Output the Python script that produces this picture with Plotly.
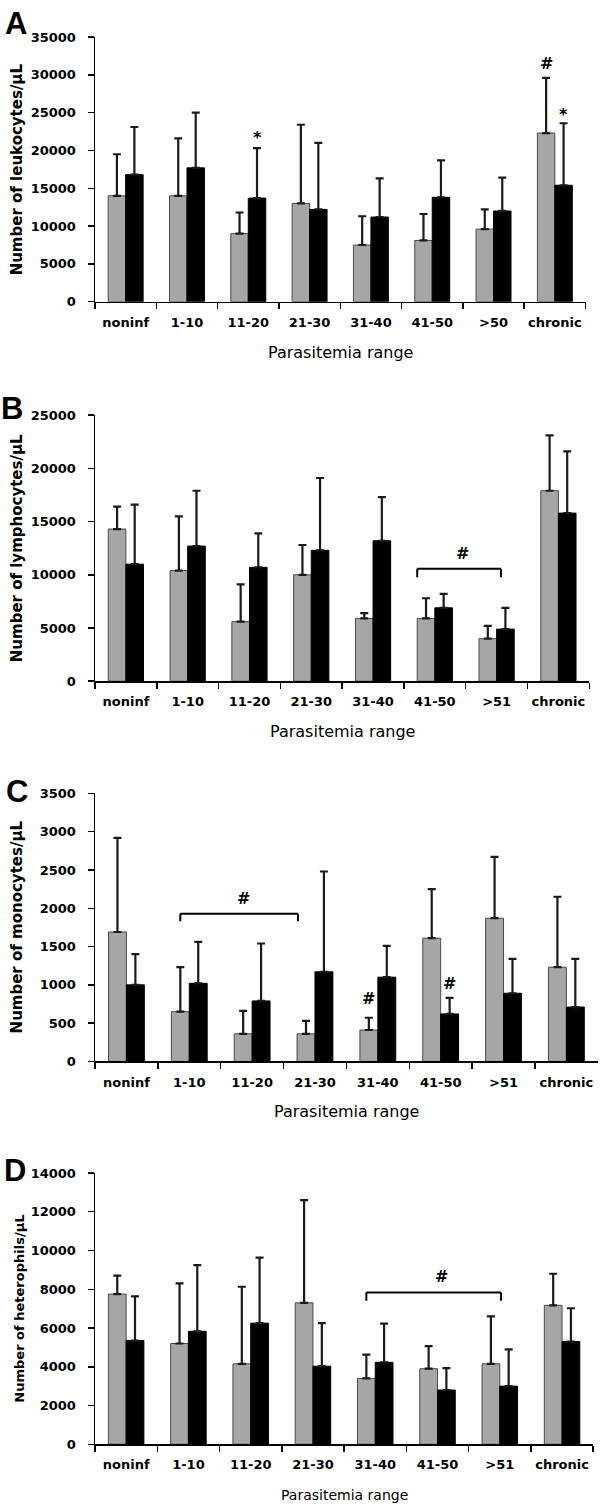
import plotly.graph_objects as go

# ---------------- data ----------------
cats_a = ["noninf", "1-10", "11-20", "21-30", "31-40", "41-50", ">50", "chronic"]
cats_bcd = ["noninf", "1-10", "11-20", "21-30", "31-40", "41-50", ">51", "chronic"]

leuko_gray = [14000, 14000, 9000, 13000, 7500, 8100, 9600, 22300]
leuko_gray_err = [5500, 7600, 2800, 10400, 3800, 3500, 2600, 7300]
leuko_black = [16800, 17700, 13700, 12200, 11200, 13800, 12000, 15400]
leuko_black_err = [6300, 7300, 6600, 8800, 5100, 4900, 4400, 8200]

lympho_gray = [14300, 10400, 5600, 10000, 5900, 5900, 4000, 17900]
lympho_gray_err = [2100, 5100, 3500, 2800, 500, 1900, 1200, 5200]
lympho_black = [11000, 12700, 10700, 12300, 13200, 6900, 4900, 15800]
lympho_black_err = [5600, 5200, 3200, 6800, 4100, 1300, 2000, 5800]

mono_gray = [1690, 650, 360, 360, 410, 1610, 1870, 1230]
mono_gray_err = [1230, 580, 300, 170, 160, 640, 800, 920]
mono_black = [1000, 1020, 790, 1170, 1100, 620, 890, 710]
mono_black_err = [400, 540, 750, 1310, 410, 210, 450, 630]

hetero_gray = [7750, 5200, 4150, 7300, 3400, 3900, 4150, 7170]
hetero_gray_err = [950, 3100, 3980, 5300, 1230, 1160, 2450, 1630]
hetero_black = [5350, 5830, 6250, 4030, 4230, 2800, 3000, 5300]
hetero_black_err = [2280, 3420, 3380, 2220, 2000, 1130, 1900, 1720]

# ---------------- styling ----------------
GRAY = "#A6A6A6"
W, H = 600, 1509
TICK_FONT = dict(family="DejaVu Sans", size=13, color="black", weight="bold")
# domain in pixels: (x_left, x_right, y_bottom, y_top)
panels = [
    dict(letter="A", cats=cats_a, g=leuko_gray, ge=leuko_gray_err, b=leuko_black, be=leuko_black_err,
         ymax=35000, dtick=5000, px=(95, 585.5, 297.7, 30.3), ytitle="Number of leukocytes/µL",
         letter_pos=(16, 17), ytsize=15, xtsize=16, ytx=17),
    dict(letter="B", cats=cats_bcd, g=lympho_gray, ge=lympho_gray_err, b=lympho_black, be=lympho_black_err,
         ymax=25000, dtick=5000, px=(95, 589.3, 681, 412.3), ytitle="Number of lymphocytes/µL",
         letter_pos=(12, 406), ytsize=15, xtsize=16, ytx=17),
    dict(letter="C", cats=cats_bcd, g=mono_gray, ge=mono_gray_err, b=mono_black, be=mono_black_err,
         ymax=3500, dtick=500, px=(95, 597.8, 1065, 794.3), ytitle="Number of monocytes/µL",
         letter_pos=(17, 792), ytsize=15, xtsize=16, ytx=17),
    dict(letter="D", cats=cats_bcd, g=hetero_gray, ge=hetero_gray_err, b=hetero_black, be=hetero_black_err,
         ymax=14000, dtick=2000, px=(95, 593.2, 1451.7, 1177.7), ytitle="Number of heterophils/µL",
         letter_pos=(15, 1175), ytsize=13, xtsize=14, ytx=20),
]

# significance marks: (panel index, x index position, y value, text)
sig_marks = [
    (0, 2.1425, 22360, "*"), (0, 6.857, 31500, "#"), (0, 7.1425, 25400, "*"),
    (1, 5.45, 12034, "#"),
    (2, 1.87, 2134, "#"), (2, 3.857, 819, "#"), (2, 5.1425, 1021, "#"),
    (3, 5.07, 8652, "#"),
]
# brackets: (panel index, x start, x end, top y, leg bottom y)
brackets = [
    (1, 4.715, 6.07, 10577, 9770),
    (2, 0.857, 2.73, 1927, 1832),
    (3, 3.857, 6.02, 7835, 7409),
]

fig = go.Figure()
annotations = []
shapes = []

for i, p in enumerate(panels):
    n = "" if i == 0 else str(i + 1)
    xa, ya = "x" + n, "y" + n
    err_style = dict(type="data", symmetric=False, color="#1a1a1a", thickness=2.2, width=4)
    fig.add_trace(go.Bar(x=p["cats"], y=p["g"], xaxis=xa, yaxis=ya,
                         marker=dict(color=GRAY, line=dict(color="#4a4a4a", width=1)),
                         error_y=dict(array=p["ge"], arrayminus=[0] * 8, **err_style),
                         showlegend=False, hoverinfo="skip"))
    fig.add_trace(go.Bar(x=p["cats"], y=p["b"], xaxis=xa, yaxis=ya,
                         marker=dict(color="black", line=dict(color="black", width=1)),
                         error_y=dict(array=p["be"], arrayminus=[0] * 8, **err_style),
                         showlegend=False, hoverinfo="skip"))
    x0, x1, yb, yt = p["px"]
    fig.update_layout(**{
        "xaxis" + n: dict(domain=[x0 / W, x1 / W], anchor=ya, type="category",
                          categoryorder="array", categoryarray=p["cats"],
                          range=[-0.5, 7.5], tickson="boundaries", ticks="outside",
                          ticklen=6, tickwidth=1.5, tickcolor="black", tickangle=0,
                          showline=True, linecolor="black", linewidth=1.5,
                          showgrid=False, tickfont=TICK_FONT, ticklabelstandoff=8,
                          fixedrange=True),
        "yaxis" + n: dict(domain=[1 - yb / H, 1 - yt / H], anchor=xa,
                          range=[0, p["ymax"]], dtick=p["dtick"], tick0=0, tickformat="d",
                          ticks="outside", ticklen=6, tickwidth=1.5, tickcolor="black",
                          showline=True, linecolor="black", linewidth=1.5,
                          showgrid=False, zeroline=False, tickfont=TICK_FONT,
                          ticklabelstandoff=9, fixedrange=True),
    })
    # panel letter
    annotations.append(dict(text="<b>%s</b>" % p["letter"], x=p["letter_pos"][0] / W,
                            y=1 - p["letter_pos"][1] / H, xref="paper", yref="paper",
                            xanchor="center", yanchor="middle", showarrow=False,
                            font=dict(family="Liberation Sans", size=31, color="black")))
    # y title
    annotations.append(dict(text="<b>%s</b>" % p["ytitle"], x=p["ytx"] / W,
                            y=1 - (yb + yt) / 2 / H, xref="paper", yref="paper",
                            xanchor="center", yanchor="middle", textangle=-90, showarrow=False,
                            font=dict(family="DejaVu Sans", size=p["ytsize"], color="black")))
    # x title
    annotations.append(dict(text="Parasitemia range", x=(x0 + x1) / 2 / W,
                            y=1 - (yb + 51) / H, xref="paper", yref="paper",
                            xanchor="center", yanchor="middle", showarrow=False,
                            font=dict(family="DejaVu Sans", size=p["xtsize"], color="black")))

for (pi, xv, yv, txt) in sig_marks:
    n = "" if pi == 0 else str(pi + 1)
    annotations.append(dict(text="<b>%s</b>" % txt, x=xv, y=yv, xref="x" + n, yref="y" + n,
                            xanchor="center", yanchor="middle", showarrow=False,
                            yshift=-5 if txt == "*" else 0,
                            font=dict(family="DejaVu Sans", size=16, color="black")))

for (pi, xs, xe, ytop, ylow) in brackets:
    n = "" if pi == 0 else str(pi + 1)
    line = dict(color="black", width=2)
    for (a0, b0, a1, b1) in [(xs, ylow, xs, ytop), (xs, ytop, xe, ytop), (xe, ytop, xe, ylow)]:
        shapes.append(dict(type="line", xref="x" + n, yref="y" + n, x0=a0, y0=b0, x1=a1, y1=b1,
                           line=line))

fig.update_layout(width=W, height=H, margin=dict(l=0, r=0, t=0, b=0),
                  paper_bgcolor="white", plot_bgcolor="white",
                  barmode="group", bargap=0.43, bargroupgap=0, hovermode=False,
                  showlegend=False, annotations=annotations, shapes=shapes)

fig.write_html("out.html", config={"displayModeBar": False, "staticPlot": True},
               post_script="document.body.style.margin='0';")
